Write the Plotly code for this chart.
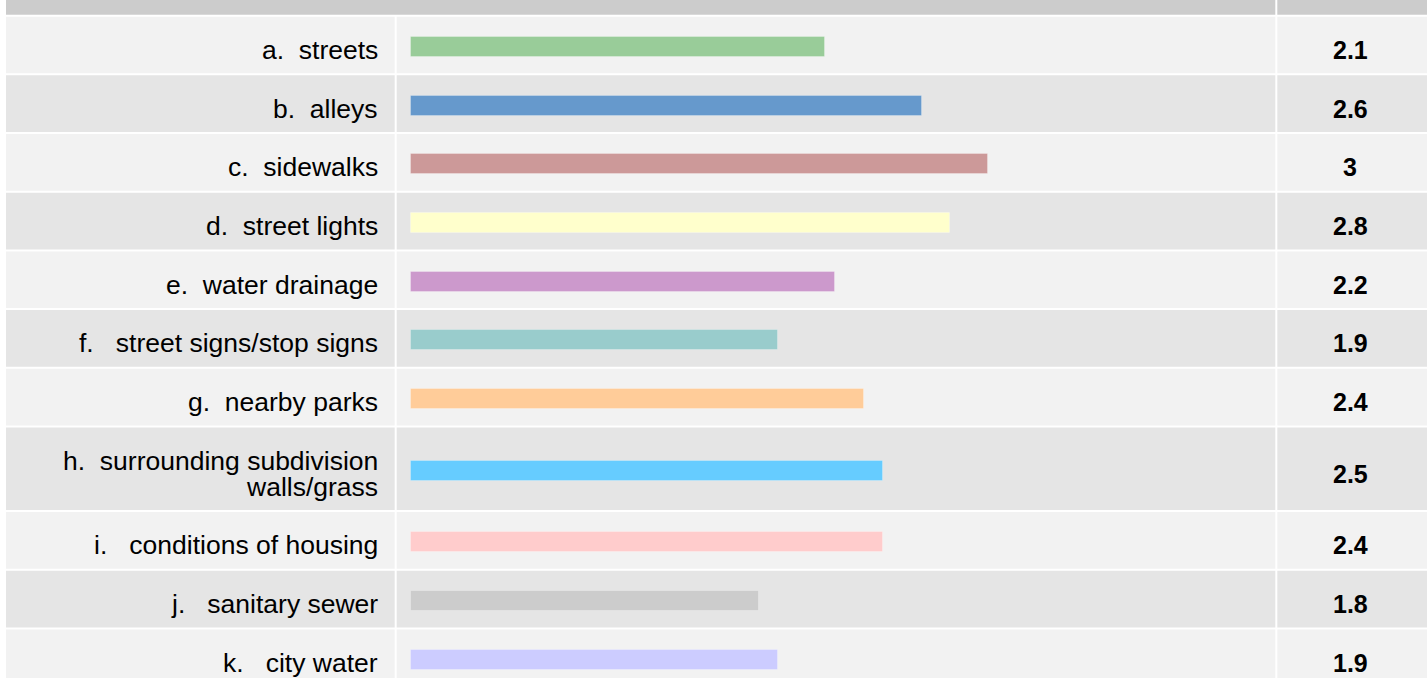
import plotly.graph_objects as go

# ---------------- data ----------------
categories = [
    "a.\u00a0\u00a0streets",
    "b.\u00a0\u00a0alleys",
    "c.\u00a0\u00a0sidewalks",
    "d.\u00a0\u00a0street lights",
    "e.\u00a0\u00a0water drainage",
    "f.\u00a0\u00a0\u00a0street signs/stop signs",
    "g.\u00a0\u00a0nearby parks",
    "h.\u00a0\u00a0surrounding subdivision\nwalls/grass",
    "i.\u00a0\u00a0\u00a0conditions of housing",
    "j.\u00a0\u00a0\u00a0sanitary sewer",
    "k.\u00a0\u00a0\u00a0city water",
]
mean_values = [2.145, 2.646, 2.990, 2.793, 2.197, 1.902, 2.347, 2.446, 2.446, 1.803, 1.902]
score_labels = ["2.1", "2.6", "3", "2.8", "2.2", "1.9", "2.4", "2.5", "2.4", "1.8", "1.9"]
bar_colors = ["#99cc99", "#6699cc", "#cc9999", "#ffffcc", "#cc99cc", "#99cccc",
              "#ffcc99", "#66ccff", "#ffcccc", "#cccccc", "#ccccff"]

# ---------------- layout constants ----------------
W, H = 1427, 678
ROW_H = 56.67
GAP = 2.0
TALL_H = 82.7
FIRST_TOP = 16.7
HEADER_BOTTOM = 14.7
LEFT = 6.0
COL1_R = 394.7
COL2_L = 396.7
COL2_R = 1275.3
COL3_L = 1277.3
ZERO_PX = 411.0
PX_PER_UNIT = 193.0
BAR_W = 20
FONT = "Liberation Sans, Arial, Helvetica, sans-serif"

row_heights = [TALL_H if "\n" in c else ROW_H for c in categories]
tops = []
t = FIRST_TOP
for h in row_heights:
    tops.append(t)
    t += h + GAP
centers = [tp + h / 2 for tp, h in zip(tops, row_heights)]

fig = go.Figure()

fig.add_trace(go.Bar(
    x=mean_values,
    y=[c + 2 for c in centers],
    orientation="h",
    width=BAR_W,
    marker=dict(color=bar_colors, line=dict(color="rgba(255,255,255,0.25)", width=1)),
    hoverinfo="skip",
    showlegend=False,
))

shapes = []
# header band
shapes.append(dict(type="rect", xref="paper", yref="y", x0=LEFT / W, x1=COL2_R / W,
                   y0=-10, y1=HEADER_BOTTOM, fillcolor="#cccccc", line_width=0, layer="below"))
shapes.append(dict(type="rect", xref="paper", yref="y", x0=COL3_L / W, x1=1,
                   y0=-10, y1=HEADER_BOTTOM, fillcolor="#cccccc", line_width=0, layer="below"))

annotations = []
for i, (cat, tp, h, c) in enumerate(zip(categories, tops, row_heights, centers)):
    fill = "#f2f2f2" if i % 2 == 0 else "#e5e5e5"
    for x0, x1 in [(LEFT, COL1_R), (COL2_L, COL2_R), (COL3_L, W)]:
        shapes.append(dict(type="rect", xref="paper", yref="y", x0=x0 / W, x1=x1 / W,
                           y0=tp, y1=tp + h, fillcolor=fill, line_width=0, layer="below"))
    lines = cat.split("\n")
    n = len(lines)
    for j, ln in enumerate(lines):
        annotations.append(dict(
            text=ln, xref="paper", yref="y", x=380 / W, y=c + 5 + (j - (n - 1) / 2) * 26,
            xanchor="right", yanchor="middle", showarrow=False,
            font=dict(family=FONT, size=26.5, color="#000000"),
        ))
    annotations.append(dict(
        text="<b>" + score_labels[i] + "</b>", xref="paper", yref="y", x=1350 / W, y=c + 5,
        xanchor="center", yanchor="middle", showarrow=False,
        font=dict(family=FONT, size=25, color="#000000"),
    ))

fig.update_layout(
    width=W, height=H,
    margin=dict(l=0, r=0, t=0, b=0),
    paper_bgcolor="#ffffff",
    plot_bgcolor="rgba(0,0,0,0)",
    xaxis=dict(range=[-ZERO_PX / PX_PER_UNIT, (W - ZERO_PX) / PX_PER_UNIT],
               visible=False, fixedrange=True),
    yaxis=dict(range=[H, 0], visible=False, fixedrange=True),
    shapes=shapes,
    annotations=annotations,
    bargap=0,
)

fig.write_html(
    "out.html",
    config={"displayModeBar": False},
    post_script="document.body.style.margin='0px';document.body.style.overflow='hidden';",
)
